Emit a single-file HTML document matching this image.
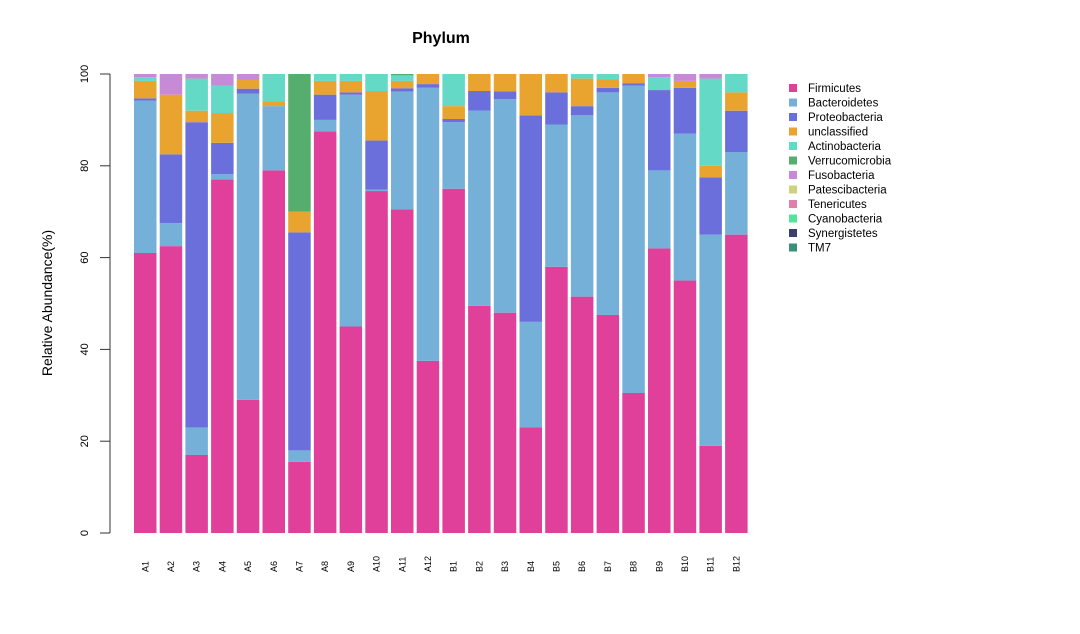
<!DOCTYPE html>
<html><head><meta charset="utf-8"><style>
body{margin:0;background:#fff;}
svg text{font-family:"Liberation Sans",sans-serif;}
</style></head><body>
<svg id="chart" width="1080" height="629" xmlns="http://www.w3.org/2000/svg">
<text x="441" y="43" font-size="16" font-weight="bold" text-anchor="middle">Phylum</text>
<text transform="translate(52,303) rotate(-90)" font-size="14" text-anchor="middle">Relative Abundance(%)</text>
<g id="bars"></g><g id="axis"></g><g id="legend"></g>
</svg>
<script>
const samples=["A1","A2","A3","A4","A5","A6","A7","A8","A9","A10","A11","A12","B1","B2","B3","B4","B5","B6","B7","B8","B9","B10","B11","B12"];
const phyla=["Firmicutes","Bacteroidetes","Proteobacteria","unclassified","Actinobacteria","Verrucomicrobia","Fusobacteria","Patescibacteria","Tenericutes","Cyanobacteria","Synergistetes","TM7"];
const colors=["#e0409a","#74b0d8","#6b6fdc","#e8a42e","#63d9c6","#55ad6e","#c78ad8","#cfd27a","#e07fa8","#56e29b","#3a3f6e","#3c8f78"];
const firmicutes=[61,62.5,17,77,29,79,15.5,87.5,45,74.5,70.5,37.5,75,49.5,48,23,58,51.5,47.5,30.5,62,55,19,65];
const bacteroidetes=[33.2,5,6,1.2,66.7,14,2.5,2.5,50.5,0.3,25.7,59.5,14.5,42.5,46.5,23,31,39.5,48.5,67,17,32,46,18];
const proteobacteria=[0.5,15,66.5,6.8,1.1,0,47.5,5.5,0.5,10.7,0.7,0.8,0.7,4.3,1.7,45,7,2,1,0.5,17.5,10,12.5,9];
const unclassified=[3.8,13,2.5,6.5,2,1,4.5,3,2.5,10.8,1.6,2.2,2.8,3.7,3.8,9,4,6,1.8,2,0,1.5,2.5,4];
const actinobacteria=[0.8,0,7,6,0,6,0,1.5,1.5,3.7,1.2,0,7,0,0,0,0,1,1.2,0,2.8,0,19,4];
const verrucomicrobia=[0,0,0,0,0,0,30,0,0,0,0.3,0,0,0,0,0,0,0,0,0,0,0,0,0];
const fusobacteria=[0.7,4.5,1,2.5,1.2,0,0,0,0,0,0,0,0,0,0,0,0,0,0,0,0.7,1.5,1,0];
const series=[firmicutes,bacteroidetes,proteobacteria,unclassified,actinobacteria,verrucomicrobia,fusobacteria];
const yTicks=[0,20,40,60,80,100];
const NS="http://www.w3.org/2000/svg";
const y=v=>533-v*4.59;
const x=i=>134+i*25.7;
const bw=22.5;
function mk(t,a,p){const e=document.createElementNS(NS,t);for(const k in a)e.setAttribute(k,a[k]);p.appendChild(e);return e;}
const gb=document.getElementById('bars'),ga=document.getElementById('axis'),gl=document.getElementById('legend');
samples.forEach((s,i)=>{
  let cum=0;
  series.forEach((ser,k)=>{
    const v=ser[i]; if(!v) return;
    const r=mk('rect',{x:x(i),y:y(cum+v),width:bw,height:y(cum)-y(cum+v),fill:colors[k]},gb);
    
    
    cum+=v;
  });
  const t=mk('text',{transform:`translate(${x(i)+bw/2+3},572) rotate(-90)`,'font-size':9},ga);
  t.textContent=s;
  
  
});
const al=mk('line',{x1:110,x2:110,y1:y(0),y2:y(100),stroke:'#333','stroke-width':1},ga);


yTicks.forEach(v=>{
  const l=mk('line',{x1:100,x2:110,y1:y(v),y2:y(v),stroke:'#333'},ga);
  
  
  const t=mk('text',{transform:`translate(88,${y(v)}) rotate(-90)`,'font-size':11,'text-anchor':'middle'},ga);
  t.textContent=v;
  
  
});
phyla.forEach((p,k)=>{
  const yy=88+k*14.5;
  const r=mk('rect',{x:789,y:yy-4,width:8,height:8,fill:colors[k]},gl);
  
  
  const t=mk('text',{x:808,y:yy+4,'font-size':11.5},gl);
  t.textContent=p;
  
  
});
</script>
</body></html>
